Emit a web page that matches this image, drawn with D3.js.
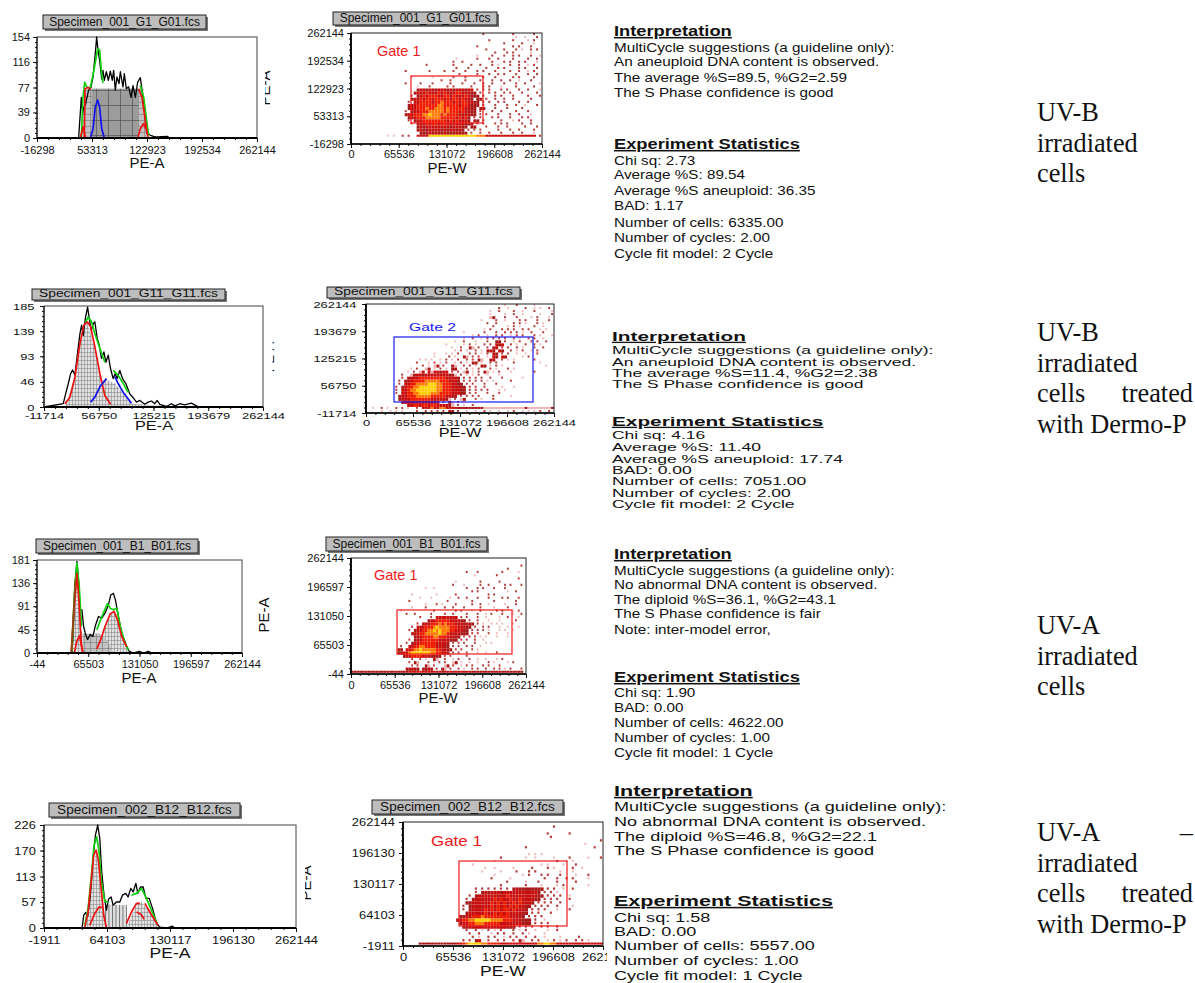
<!DOCTYPE html>
<html>
<head>
<meta charset="utf-8">
<script src="https://cdn.jsdelivr.net/npm/d3@7"></script>
<style>
  body { margin: 0; background: #fff; }
  text { font-family: "Liberation Sans", Arial, sans-serif; fill: #111; }
  .serif { font-family: "Liberation Serif", "Times New Roman", serif; }
  .axis path { display: none; }
  .axis line { stroke: #111; }
</style>
</head>
<body>
<div id="chart"></div>
<script>
// file names above each plot
const FILES = ["Specimen_001_G1_G01.fcs", "Specimen_001_G11_G11.fcs", "Specimen_001_B1_B01.fcs", "Specimen_002_B12_B12.fcs"]

// tick labels
const HIST_X_TICKS = [
  [-16298, 53313, 122923, 192534, 262144],
  [-11714, 56750, 125215, 193679, 262144],
  [-44, 65503, 131050, 196597, 262144],
  [-1911, 64103, 130117, 196130, 262144]
]
const HIST_Y_TICKS = [[0, 39, 77, 116, 154], [0, 46, 93, 139, 185], [0, 45, 91, 136, 181], [0, 57, 113, 170, 226]]
const SCATTER_X_TICKS = [0, 65536, 131072, 196608, 262144]

// histogram traces, [PE-A in thousands, count]
const black1 = [[-16.3,0],[36.4,0],[39.8,62],[41.5,37],[42.8,47],[44.9,50],[47,62],[49.1,73],[52,77],[54.6,93],[57.5,129],[59.2,154],[60.9,134],[63,118],[65.6,90],[67.2,103],[68.9,88],[71.5,101],[74,88],[76.5,102],[79,88],[80.7,103],[82.8,73],[84.9,93],[87.5,83],[89.2,101],[92.5,78],[94.2,98],[96.8,75],[99.7,78],[102.7,62],[105.2,80],[108.2,62],[111.1,85],[114.5,92],[116.6,73],[119.6,42],[123,9],[127.2,4],[131.4,2.5],[135.6,1.5],[148.2,2.5],[152.5,0],[262.1,0]]
const green1a = [[39.8,1.5],[41.9,62],[44,85],[47,77],[51.2,77],[55.4,101],[60.5,136],[63,134],[65.1,103],[67.2,84]]
const green1b = [[114.5,80],[118.7,62],[123,22],[125,4]]
const red1a = [[38.5,0],[41.9,17],[45.3,0]]
const red1b = [[43.6,1.5],[44.5,75],[47.8,77],[52,75]]
const red1c = [[112.4,75],[116.6,62],[119.6,37],[123,7]]
const red1d = [[111.5,1.5],[114.5,14],[118.7,22],[121.7,14],[124.2,1.5]]
const blue1 = [[51.2,0],[54.6,14],[57.5,47],[60.5,58],[63,47],[65.6,14],[68.9,0]]
const lightFill1 = [[39.8,0],[44,75],[118,75],[125,0]]
const darkFill1 = [[53,0],[53,75],[112.4,75],[112.4,0]]

const black2 = [[-11.7,0],[12.4,6],[15.3,24],[18.7,43],[21.6,61],[24.1,68],[27,58],[29.9,95],[33.2,134],[35.3,150],[37.4,131],[40.3,165],[42.8,183],[44.9,162],[47.4,140],[49.9,153],[51.9,156],[54.9,125],[57.4,113],[60.2,89],[63.2,101],[65.7,82],[68.6,95],[71.5,70],[74.8,52],[77.3,61],[79.8,52],[83.1,67],[86.5,52],[90.6,43],[95.6,24],[99.8,17],[103.9,9],[108.1,12],[114.3,5],[118.5,9],[122.7,11],[126.8,6],[129.8,12],[133.1,5],[141.4,1],[147.7,6],[151.8,2],[158.1,6],[164.3,4],[172.6,7],[178.9,2],[183,0],[262.1,0]]
const green2a = [[40.3,156],[43.6,165],[47.8,156],[51.9,134],[58.2,107],[64.4,82]]
const green2b = [[74.8,67],[81,58],[87.3,43],[93.5,27]]
const red2 = [[14.5,6],[20.7,18],[27,55],[33.2,116],[38.2,150],[42.4,156],[46.6,147],[51.9,110],[58.2,61],[64.4,21],[71.5,5]]
const blue2a = [[46.6,9],[51.9,18],[58.2,37],[66.5,52]]
const blue2b = [[77,55],[81,43],[87.3,27],[97.7,7]]
const lightFill2 = [[14.5,0],[27,55],[33.2,116],[42.4,156],[51.9,110],[60,48],[70,48],[77,43],[97.7,6],[125,3],[183,1],[183,0]]

const black3 = [[-0.04,0],[43.8,0],[45.9,26],[48.9,142],[51,178],[53.1,142],[55.2,84],[57.4,84],[59.5,52],[61.6,39],[64.6,26],[68,36],[71.4,32],[74.4,52],[78.6,71],[82.9,68],[87.1,78],[91.4,94],[94.3,113],[97.7,116],[100.3,103],[104.1,71],[108.3,39],[113.9,16],[118.1,3],[123.2,0],[130.9,3],[136,0],[142.3,3],[146.6,0],[262.1,0]]
const green3a = [[44.6,0],[47.6,110],[51,175],[54,129],[56.9,52]]
const green3b = [[76.5,45],[82.9,71],[90,96],[93.5,87],[97.7,84],[102,87],[107,48],[112.6,19],[116.8,6]]
const red3a = [[43.8,0],[46.7,71],[51,155],[53.5,103],[56.5,19],[58.6,0]]
const red3b = [[47.6,0],[51,23],[54.4,34],[56.5,16],[58.6,0]]
const red3c = [[76.5,8],[80.7,23],[87.1,52],[93.5,76],[98.6,81],[102.8,65],[108.3,32],[114.7,12]]
const brown3 = [[43.8,0],[48.9,140]]
const lightFill3 = [[43.8,0],[46.7,71],[51,155],[53.5,103],[56.5,45],[58,39],[58,0]]
const lightFill3b = [[76.5,0],[87.1,52],[93.5,76],[98.6,81],[102.8,65],[108.3,32],[116.8,6],[116.8,0]]
const darkFill3 = [[58,0],[58,38],[80,38],[90,23],[98,0]]

const black4 = [[-1.9,0],[38,0],[39.7,28],[41.8,34],[43.9,26],[46.7,72],[49.5,153],[52,204],[54.4,226],[56.5,197],[58.6,123],[61,72],[63.5,39],[65.6,63],[68.4,68],[70.5,50],[74,57],[77.5,57],[80.3,72],[83.8,76],[86.2,68],[89,87],[91.5,79],[94.3,98],[96.4,76],[99.2,90],[102,90],[104.8,65],[108.3,65],[111.8,43],[116,10],[119.4,2],[126.4,0],[132.7,4],[135.2,0],[262.1,0]]
const green4a = [[40.8,6],[44.3,43],[47.8,116],[50.6,182],[53.4,200],[55.8,167],[58.3,101],[61.7,59],[65.2,56]]
const green4b = [[89.7,72],[95,76],[100.2,87],[105.5,65],[110.7,39],[116.6,10]]
const red4a = [[40.8,2],[44.3,35],[47.8,109],[50.2,160],[52.7,171],[55.1,149],[58.3,79],[60.7,28],[63.5,0]]
const red4b = [[46,6],[51.3,32],[55.8,46],[58.6,46]]
const red4c = [[84.5,10],[89.7,35],[95,54],[98.5,54]]
const red4d = [[103.7,54],[109,35],[114.2,17],[117.7,6]]
const red4e = [[95,35],[100.2,29],[103,19]]
const lightFill4 = [[40.8,0],[47.8,109],[52.7,171],[55.1,149],[58.3,79],[60.7,50],[63.5,0]]
const lightFill4b = [[84.5,0],[95,54],[100,58],[109,35],[117.7,6],[117.7,0]]
const stripeFill4 = [[62,0],[62,52],[85,50],[85,0]]

// event density read cell by cell, blank = no events, 1 pale ... 6 yellow
const density1 = [
"............................................2.........2......2",
".......................................................1..1...2.1",
"..............................................2.......2....1.2...1",
"...................................................2.....2...1..2",
"..........................................2...........2.2...2...1",
".............................................2.....2...2.1..2.2",
"................................................2...2.2.....1...2",
"..........................................1....2...2..2.2...2..1",
"...................................1......2...2..2....2....2..2",
"..................................2..2.........2...2.2..2.2...1.2",
".........................2........2.....2..2...2.1...2..2..1.2",
"...................................2...2.....2...2.2....2.2...2",
"..................2.......2....2..2...2...2.2...2....2..2..1.2",
"....................................2.....2...2..2.2...2...2..2.2",
"....................1......1......2...2.....2...2.....2.2....2",
"..............................2..2....2....2...2..2..2..1...2...2",
"..................2....2...2.....2...2...2..2..2...2...2..2....1",
"......................1...2.....2.2.....2...2.2...1....2.....2..2",
"......................2332332333232333233.2.2.2...2.2...2..2...1",
".....................233343334343334433322.2..2.2..2.2...2....2",
"....................2.234344433443433343222.2...2.2...2....2...2.1",
"....................233434434443434434332.22.2..2..2..2.....2",
"...................2.3344443445444343443322.2.2..2.2....2..2",
"...................233444444455444443443222.2...2...2..2..1...2",
"...................23344454455545444443322.22...2...2....2",
"..................2.2334445555545444343222.2...2..2....2...2",
"..................233444556555454444333322.2.2...2...2..2...1",
"...................233444555554444434342.2.2...2.2...2...2.2",
"...................2.2334444444434343332.22.2.....2...1.2...2",
"....................2.2334344344333333222.2.2...2.2.2....2..2...2",
"......................23233333333233322.22...2...2..2.....2...2.1",
"......................2322333323233232.2.2.2.....2...2..2....2..2",
".......................2223232232223222.2..2..2...2...2..2...1..2",
"............1.1..2.2..3333666666666666666655533333333333333333.3"
]
const density2 = [
"...............................................1...2.....1",
".............................................2..1.....2..1.1..2",
"..........................................1..2....2..1...2.....1",
"..........................................1....1..2..1.....1...2",
"..........................................12...2...2....1.2...1",
".......................................1....2..1....2.2...2...2",
".........................................2..2.....2.2.1...2.1",
"...........................................2....1.2.1....2..1...2",
"........................................1.2...2.2.2..2.2...1.1",
".................................1......2...2..2.2.2.1..2...2",
"....................................1.2..1..2.2..1.2.2...2.1...1",
".................................1..2..1.2.2.2.2..2.1..2.2..1",
"..............................1..2...1...2..22.2..1.2...2.2..2",
"...........................1.....1.2.1..2.2.323..2.1..2..2.1",
".............................1..2..21.2..2.23.3.2..2.1...2..2",
"..............................1.2.1..2.1.232.32..2.1.2..1.2",
".......................1...1.1.2...2.2.1.2.32.2.2..1..1...2",
".......................1....2.1..21.2.3..1.32.32.....1.2",
"..................1.1.1..1.2.1.2..2.3.21..23..2.1.1......2",
".................2...1.2.1.2..1.2.1.22.1..2.2.....2........1",
"...................2.1.12.2..21..2.2.1.22.1.2.1..............1",
"...............1.2..12.1.2.1.22.1.2.1.2...2.1...2.1",
"..............1.2.13.3133233.3.2.12.1.2.21.1.2...1.......2",
"............2..1233233333333221.2.1.1.2..1...1",
"............2.233344444444433332.2.2.2.2..2...2......1",
"...........2.2334444555554443332.2.2.2.2.1.1.....2",
"...........2.33445555666554443322.2.2...2...2",
"..........2.2344556666665544433322.2.2..2.....1...1",
"..........2.3345566666665544433322.2.2.2.2...1.1",
"..........2.3344556666555444433322.2.2...2...2",
"...........23344455555444443332.2.2.2.2....2.....1",
"...........233344444443333321.2.12...2.1...2",
"............2333233333323.2.21.2.1",
"..............3344344344333321.2.1..2",
"..1..2.1..2.2.1..2.333533553333222222222111111111111112111111112",
".....1..1.1.1....2..2.2.2.2.22.2..1..1..2.1..1..1.2..1.1.1.2..2"
]
const density3 = [
"",
"",
"..............................................................2",
".........................................................2",
"..........................................2...2........2.....1..2",
".............................................1.......2",
".............................................................2",
"......................................1........2......2",
".....................................2...1.....2..2.....2.2...2",
"...........................1..1...........2...2.2...2...2",
"............................................2.2..........1..2",
"......................1........1......2...........2.2",
".........................1...1......1..2..2...2...2....2.2...2",
".....................2.............2........2.......2.......2",
"...........................1...2.1....2.....2..2..1.....1...2",
"......................1....2......2..2...2.....2....1....2",
"..................1...........2.......2.2...1..2.....2.2...1.2",
"....................2..2.....2....3..2....2...2..1.2...2...1..2",
".........................2...2.33333333.2.2...2..1....1..2...1",
"............................23344444333322.2..2...1...1.....2",
"........................2.3334445454443332322.2.1..1.1.1...1",
"......................2.33344456555544433322.2..2.2...1..1...1",
".....................2.23344556565554433322.2.2.2.1...1.1..1",
"......................233445555565543333222.2.2...2..1...1",
".......................23344445544433322.2.2.2.1.1...1...1",
".....................2.2334444443333222.2.2..2..1",
"....................2.23344444433332.2.2.2...2...1.1",
"..................2..334455444433322.2.2..2.2..1",
".................22.33455655555443322.2.2...2.1",
".................2233566666665544332.2.2..2...1..1...2",
"...................23344443332222.2.2.....2",
"......................2..2.1..21..2..1.2...2..1..1...1.2",
".....................2.21...2.1.2.2..12.1..1..1...2.1....1.2",
"......................2.2..21.2...12.2..1.2.2...2.2...2",
"....................22322.2232.2.21.2..2.1..2.2..2..2.2.1.2...2",
"222222222222222222222333343333323232323232322222222222222222222"
]
const density4 = [
"",
"................................................2",
"",
"..............................................2......2",
"...............................................2",
"...............................................................2",
"..........................................................1",
".......................................2.....................2",
"",
"........................................1.1.1",
"...............................2.......1..1.....1....2.....1...2",
".............................1...................2..1.1",
"......................1.....................1.1....1...2",
"..........................1..1.....1.....2....2.1.....2..1",
".........................1.....1....2...2.2.......1...1",
".............................1........1.2...2.2...2....1...2",
"............................2.....1..........2...2..2.2....1",
".................................2.....1...2.....2.....2",
"...............................2.......2....1....1.2.......1",
".......................2.2.2.2.2.2.2322222222.2.2..1..2",
".......................2.2323332333333333332.2.2.1",
".....................2.2333333333433333333322.2.2.2..1",
"....................2.2333333434334334333322.2.2.2...2",
"....................2233333343434334343332.2.2.2..2",
"...................2.23333334343434343322.2.2.2..2....1",
"...................2.2333343434344343332.2.2.2...1...2",
"....................23333343343434333322.2.2...2",
"..................223344454444444433322.2.2.2",
".................234455666665555444333222.2..1",
"..................23344555444443333333222.2.2.2",
"...................22333333333333222.2.2.2..2.2..2",
"....................2..2.1.2.1.2...2.1.2..1...1..2",
".....................2..2...1.2.2..2..2.1....1",
"......................2.1..2.2..1.2.2..2..2..1....1.....2",
"...................2.2.23..2..3.2..3.21..2.2..1.2.1.2..2.2.1",
".....22222222222233456666554444333333333333556655333333333333333"
]
// gate corners, [PE-W, PE-A]
const gates = [[[82350, 36400], [181170, 154300]], [[39040, 15960], [232860, 179240]], [[68900, 45180], [241170, 144620]], [[73400, 40700], [214960, 179100]]]
const gateNames = ["Gate 1", "Gate 2", "Gate 1", "Gate 1"]

// report text
const interp1 = ["MultiCycle suggestions (a guideline only):", "An aneuploid DNA content is observed.", "The average %S=89.5, %G2=2.59", "The S Phase confidence is good"]
const stats1 = ["Chi sq: 2.73", "Average %S: 89.54", "Average %S aneuploid: 36.35", "BAD: 1.17", "Number of cells: 6335.00", "Number of cycles: 2.00", "Cycle fit model: 2 Cycle"]
const interp2 = ["MultiCycle suggestions (a guideline only):", "An aneuploid DNA content is observed.", "The average %S=11.4, %G2=2.38", "The S Phase confidence is good"]
const stats2 = ["Chi sq: 4.16", "Average %S: 11.40", "Average %S aneuploid: 17.74", "BAD: 0.00", "Number of cells: 7051.00", "Number of cycles: 2.00", "Cycle fit model: 2 Cycle"]
const interp3 = ["MultiCycle suggestions (a guideline only):", "No abnormal DNA content is observed.", "The diploid %S=36.1, %G2=43.1", "The S Phase confidence is fair", "Note: inter-model error,"]
const stats3 = ["Chi sq: 1.90", "BAD: 0.00", "Number of cells: 4622.00", "Number of cycles: 1.00", "Cycle fit model: 1 Cycle"]
const interp4 = ["MultiCycle suggestions (a guideline only):", "No abnormal DNA content is observed.", "The diploid %S=46.8, %G2=22.1", "The S Phase confidence is good"]
const stats4 = ["Chi sq: 1.58", "BAD: 0.00", "Number of cells: 5557.00", "Number of cycles: 1.00", "Cycle fit model: 1 Cycle"]

const GREEN = "#10d010", RED = "#ee1111", BLUE = "#1111ee", BLACK = "#000"
const HIST_LAYOUT = [
  {x0: 37, x1: 257, y0: 138, y1: 37, box: [43, 15, 163, 14], boxFont: 12, boxSx: 1, sx: 1, font: 11, pad: 4, label: [147, 168], side: {x: 270, y: 88, clip: 265, size: 15}, labelSize: 15},
  {x0: 44, x1: 263, y0: 407, y1: 306, box: [32, 289, 193, 11], boxFont: 10, boxSx: 1.38, sx: 1.36, font: 9.5, pad: 1.2, label: [154, 430], side: {x: 273.5, y: 357, clip: 272.5, size: 13}, labelSize: 12},
  {x0: 37, x1: 242, y0: 653, y1: 560, box: [36, 539, 162, 14], boxFont: 12, boxSx: 1, sx: 1, font: 11, pad: 3, label: [139, 683], side: {x: 269, y: 615, clip: 0, size: 15}, labelSize: 15},
  {x0: 44, x1: 296, y0: 928, y1: 825, box: [49, 803, 191, 14], boxFont: 12, boxSx: 1.13, sx: 1.17, font: 11, pad: 4, label: [170, 958], side: {x: 311, y: 883, clip: 305, size: 15}, labelSize: 15}
]
const SCATTER_LAYOUT = [
  {x0: 351, x1: 542, y0: 144, y1: 33, box: [333, 12, 164, 13], boxFont: 12, boxSx: 1, sx: 1, font: 11, pad: 2, label: [447, 173], gateText: [377, 56], gateFont: 14.5, labelSize: 15, thinRow: 33},
  {x0: 366, x1: 554, y0: 413, y1: 304, box: [327, 287, 193, 11], boxFont: 10, boxSx: 1.38, sx: 1.36, font: 9.5, pad: 2, label: [460, 437], gateText: [409, 331], gateFont: 11.5, labelSize: 12, thinRow: 34},
  {x0: 351, x1: 526, y0: 674, y1: 558, box: [326, 537, 161, 14], boxFont: 12, boxSx: 1, sx: 1, font: 11, pad: 3, label: [438, 703], gateText: [374, 580], gateFont: 14.5, labelSize: 15, thinRow: 35},
  {x0: 403, x1: 603, y0: 946, y1: 822, box: [372, 800, 191, 14], boxFont: 12, boxSx: 1.13, sx: 1.17, font: 11, pad: 3.5, label: [503, 976], gateText: [431, 846], gateFont: 14.5, labelSize: 15, clipRight: 607, thinRow: 35}
]
const TEXT_LAYOUT = [
  {x: 614, size: 13.5, sx: 1.13, headSize: 15.5, headSx: 1.18, interpHead: 36, interpY: [52, 66, 82, 97], statsHead: 149, statsY: [164.5, 179, 195, 210, 227, 242, 258]},
  {x: 612, size: 11, sx: 1.59, headSize: 13, headSx: 1.6, interpHead: 341, interpY: [354, 366, 377, 388], statsHead: 426, statsY: [439, 451, 463, 474, 485, 497, 508]},
  {x: 614, size: 13.5, sx: 1.13, headSize: 15.5, headSx: 1.18, interpHead: 559, interpY: [575, 589, 604, 618, 634], statsHead: 682, statsY: [697, 712, 727, 742, 757]},
  {x: 614, size: 13.5, sx: 1.338, headSize: 15.5, headSx: 1.39, interpHead: 796, interpY: [811, 826, 841, 855], statsHead: 906, statsY: [922, 936, 950, 965, 980]}
]

const svg = d3.select("#chart").append("svg")
  .attr("width", 1195)
  .attr("height", 983)
  .style("display", "block")

const defs = svg.append("defs")
defs.append("filter").attr("id", "soft")
  .append("feGaussianBlur").attr("stdDeviation", 0.35)

// hatch fills used under the fitted peaks
function hatch(id, bg, line, w, h, both) {
  const p = defs.append("pattern").attr("id", id).attr("patternUnits", "userSpaceOnUse").attr("width", w).attr("height", h)
  p.append("rect").attr("width", w).attr("height", h).attr("fill", bg)
  p.append("line").attr("x1", 0.5).attr("x2", 0.5).attr("y1", 0).attr("y2", h).attr("stroke", line).attr("stroke-width", 0.6)
  if (both) p.append("line").attr("x1", 0).attr("x2", w).attr("y1", 0.5).attr("y2", 0.5).attr("stroke", line).attr("stroke-width", 0.6)
}
hatch("lightHatch", "#e2e2e2", "#8a8a8a", 3, 4, true)
hatch("darkHatch", "#9c9c9c", "#444", 12, 15, true)
hatch("midHatch", "#c2c2c2", "#777", 6, 6, true)
hatch("stripes", "#e0e0e0", "#222", 3.5, 40, false)

function fileBox(g, name, L) {
  const b = L.box
  g.append("rect").attr("x", b[0] + 2).attr("y", b[1] + 2).attr("width", b[2]).attr("height", b[3]).attr("fill", "#777")
  g.append("rect").attr("x", b[0]).attr("y", b[1]).attr("width", b[2]).attr("height", b[3])
    .attr("fill", "#bdbdbd").attr("stroke", "#222").attr("stroke-width", 1)
  g.append("text")
    .attr("transform", `translate(${b[0] + b[2] / 2}, ${b[1] + b[3] - 3}) scale(${L.boxSx}, 1)`)
    .attr("text-anchor", "middle")
    .attr("font-size", L.boxFont)
    .text(name)
}

function drawAxes(g, x, y, xTicks, yTicks, L) {
  const minorX = d3.range(0, 21).map(i => xTicks[0] + (xTicks[4] - xTicks[0]) * i / 20)
  const minorY = d3.range(0, 21).map(i => yTicks[0] + (yTicks[4] - yTicks[0]) * i / 20)

  g.append("g").attr("class", "axis").attr("transform", `translate(0, ${L.y0})`)
    .call(d3.axisBottom(x).tickValues(minorX).tickSize(2).tickFormat(""))
  g.append("g").attr("class", "axis").attr("transform", `translate(${L.x0}, 0)`)
    .call(d3.axisLeft(y).tickValues(minorY).tickSize(2).tickFormat(""))

  const xAxis = g.append("g").attr("class", "axis").attr("transform", `translate(0, ${L.y0})`)
    .call(d3.axisBottom(x).tickValues(xTicks).tickSize(4).tickPadding(L.pad).tickFormat(d => d))
  xAxis.selectAll("text").attr("font-size", L.font).attr("transform", `scale(${L.sx}, 1)`).attr("fill", "#111")

  const yAxis = g.append("g").attr("class", "axis").attr("transform", `translate(${L.x0}, 0)`)
    .call(d3.axisLeft(y).tickValues(yTicks).tickSize(4).tickPadding(3).tickFormat(d => d))
  yAxis.selectAll("text").attr("font-size", L.font).attr("transform", `scale(${L.sx}, 1)`).attr("fill", "#111")
}

function axisTitle(g, name, L) {
  g.append("text")
    .attr("transform", `translate(${L.label[0]}, ${L.label[1]}) scale(${L.sx}, 1)`)
    .attr("text-anchor", "middle")
    .attr("font-size", L.labelSize)
    .text(name)
}

function drawHist(i, fills, traces) {
  const L = HIST_LAYOUT[i]
  const g = svg.append("g")
  const xTicks = HIST_X_TICKS[i], yTicks = HIST_Y_TICKS[i]
  const x = d3.scaleLinear().domain([xTicks[0], xTicks[4]]).range([L.x0, L.x1])
  const y = d3.scaleLinear().domain([0, yTicks[4]]).range([L.y0, L.y1])

  const area = d3.area().x(d => x(d[0] * 1000)).y0(y(0)).y1(d => y(d[1]))
  const line = d3.line().x(d => x(d[0] * 1000)).y(d => y(d[1]))

  fills.forEach(f => g.append("path").attr("d", area(f.data)).attr("fill", `url(#${f.fill})`))

  g.append("rect").attr("x", L.x0).attr("y", L.y1).attr("width", L.x1 - L.x0).attr("height", L.y0 - L.y1)
    .attr("fill", "none").attr("stroke", "#444").attr("stroke-width", 1)

  traces.forEach(t => g.append("path").attr("d", line(t.data)).attr("fill", "none")
    .attr("stroke", t.color).attr("stroke-width", t.color === BLACK ? 1.3 : 1.7).attr("stroke-linejoin", "round"))

  drawAxes(g, x, y, xTicks, yTicks, L)
  g.append("line").attr("x1", L.x0).attr("x2", L.x1).attr("y1", L.y0).attr("y2", L.y0).attr("stroke", "#000").attr("stroke-width", 1.8)
  g.append("line").attr("x1", L.x0).attr("x2", L.x0).attr("y1", L.y0).attr("y2", L.y1).attr("stroke", "#000").attr("stroke-width", 1)

  fileBox(g, FILES[i], L)
  axisTitle(g, "PE-A", L)

  // the y label is cut off by the page in most of the panels
  const s = L.side
  const sideG = g.append("g")
  if (s.clip) {
    sideG.append("clipPath").attr("id", "side" + i).append("rect")
      .attr("x", s.clip).attr("y", s.y - 30).attr("width", 20).attr("height", 60)
    sideG.attr("clip-path", `url(#side${i})`)
  }
  sideG.append("text")
    .attr("transform", `translate(${s.x}, ${s.y}) rotate(-90)`)
    .attr("text-anchor", "middle")
    .attr("font-size", s.size)
    .text("PE-A")
}

const densityColor = d3.scaleOrdinal()
  .domain(["1", "2", "3", "4", "5", "6"])
  .range(["#efb0b0", "#a81818", "#c80c0c", "#ee1a00", "#ff7a00", "#ffd000"])

function drawScatter(i, grid) {
  const L = SCATTER_LAYOUT[i]
  const g = svg.append("g")
  const yTicks = HIST_X_TICKS[i]
  const x = d3.scaleLinear().domain([0, 262144]).range([L.x0, L.x1])
  const y = d3.scaleLinear().domain([yTicks[0], yTicks[4]]).range([L.y0, L.y1])
  const col = d3.scaleBand().domain(d3.range(64)).range([L.x0, L.x1])
  const row = d3.scaleBand().domain(d3.range(36)).range([L.y1, L.y0])

  // single events are drawn smaller than the filled parts of the cloud
  const cells = []
  grid.forEach((s, r) => s.split("").forEach((c, k) => {
    if (c === "." || k >= 64) return
    const alone = (s[k - 1] === undefined || s[k - 1] === ".") && (s[k + 1] === undefined || s[k + 1] === ".")
    cells.push({r, k, c, alone})
  }))
  const w = d => (d.alone ? 0.66 : 1) * col.bandwidth()
  const h = d => d.r === L.thinRow ? 2 : (d.alone ? 0.66 : 1) * row.bandwidth()

  g.append("g").attr("filter", "url(#soft)").selectAll("rect").data(cells).enter().append("rect")
    .attr("x", d => col(d.k))
    .attr("y", d => row(d.r))
    .attr("width", w)
    .attr("height", h)
    .attr("fill", d => densityColor(d.c))
    .attr("opacity", d => d.alone ? 0.85 : 1)

  const gate = gates[i]
  const gateColor = gateNames[i] === "Gate 2" ? "#1a1aee" : "#ee1a1a"
  g.append("rect")
    .attr("x", x(gate[0][0])).attr("y", y(gate[1][1]))
    .attr("width", x(gate[1][0]) - x(gate[0][0]))
    .attr("height", y(gate[0][1]) - y(gate[1][1]))
    .attr("fill", "none").attr("stroke", gateColor).attr("stroke-width", 1.2)
  g.append("text")
    .attr("transform", `translate(${L.gateText[0]}, ${L.gateText[1]}) scale(${L.sx}, 1)`)
    .attr("font-size", L.gateFont)
    .style("fill", gateColor)
    .text(gateNames[i])

  g.append("rect").attr("x", L.x0).attr("y", L.y1).attr("width", L.x1 - L.x0).attr("height", L.y0 - L.y1)
    .attr("fill", "none").attr("stroke", "#222").attr("stroke-width", 1)

  const axisG = g.append("g")
  if (L.clipRight) {
    axisG.append("clipPath").attr("id", "scatterClip" + i).append("rect")
      .attr("x", 0).attr("y", L.y1 - 20).attr("width", L.clipRight).attr("height", 200)
    axisG.attr("clip-path", `url(#scatterClip${i})`)
  }
  drawAxes(axisG, x, y, SCATTER_X_TICKS, yTicks, L)
  g.append("line").attr("x1", L.x0).attr("x2", L.x1).attr("y1", L.y0).attr("y2", L.y0).attr("stroke", "#000").attr("stroke-width", 1.6)
  g.append("line").attr("x1", L.x0).attr("x2", L.x0).attr("y1", L.y0).attr("y2", L.y1).attr("stroke", "#000").attr("stroke-width", 1.8)

  fileBox(g, FILES[i], L)
  axisTitle(g, "PE-W", L)
}

function drawReport(T, interp, stats) {
  const g = svg.append("g")
  const head = (name, yy) => g.append("text")
    .attr("transform", `translate(${T.x}, ${yy}) scale(${T.headSx}, 1)`)
    .attr("font-size", T.headSize)
    .attr("font-weight", "bold")
    .attr("text-decoration", "underline")
    .text(name)
  const body = (lines, ys) => lines.forEach((s, i) => g.append("text")
    .attr("transform", `translate(${T.x}, ${ys[i]}) scale(${T.sx}, 1)`)
    .attr("font-size", T.size)
    .text(s))
  head("Interpretation", T.interpHead)
  body(interp, T.interpY)
  head("Experiment Statistics", T.statsHead)
  body(stats, T.statsY)
}

drawHist(0,
  [{data: lightFill1, fill: "midHatch"}, {data: darkFill1, fill: "darkHatch"}],
  [{data: black1, color: BLACK}, {data: green1a, color: GREEN}, {data: green1b, color: GREEN}, {data: red1a, color: RED},
   {data: red1b, color: RED}, {data: red1c, color: RED}, {data: red1d, color: RED}, {data: blue1, color: BLUE}])
drawHist(1,
  [{data: lightFill2, fill: "lightHatch"}],
  [{data: black2, color: BLACK}, {data: green2a, color: GREEN}, {data: green2b, color: GREEN}, {data: red2, color: RED}, {data: blue2a, color: BLUE}, {data: blue2b, color: BLUE}])
drawHist(2,
  [{data: lightFill3, fill: "lightHatch"}, {data: lightFill3b, fill: "lightHatch"}, {data: darkFill3, fill: "midHatch"}],
  [{data: black3, color: BLACK}, {data: green3a, color: GREEN}, {data: green3b, color: GREEN}, {data: red3a, color: RED},
   {data: red3b, color: RED}, {data: red3c, color: RED}, {data: brown3, color: "#8a4a10"}])
drawHist(3,
  [{data: lightFill4, fill: "lightHatch"}, {data: lightFill4b, fill: "lightHatch"}, {data: stripeFill4, fill: "stripes"}],
  [{data: black4, color: BLACK}, {data: green4a, color: GREEN}, {data: green4b, color: GREEN}, {data: red4a, color: RED},
   {data: red4b, color: RED}, {data: red4c, color: RED}, {data: red4d, color: RED}, {data: red4e, color: RED}])

drawScatter(0, density1)
drawScatter(1, density2)
drawScatter(2, density3)
drawScatter(3, density4)

drawReport(TEXT_LAYOUT[0], interp1, stats1)
drawReport(TEXT_LAYOUT[1], interp2, stats2)
drawReport(TEXT_LAYOUT[2], interp3, stats3)
drawReport(TEXT_LAYOUT[3], interp4, stats4)

// condition notes on the far right, justified in the source document
const noteRows = [
  {ys: [121, 152, 182], lines: [["UV-B"], ["irradiated"], ["cells"]]},
  {ys: [341, 372, 402, 433], lines: [["UV-B"], ["irradiated"], ["cells", "treated"], ["with Dermo-P"]]},
  {ys: [634, 665, 695], lines: [["UV-A"], ["irradiated"], ["cells"]]},
  {ys: [841, 872, 902, 933], lines: [["UV-A", "–"], ["irradiated"], ["cells", "treated"], ["with Dermo-P"]]}
]
noteRows.forEach(n => n.lines.forEach((parts, i) => {
  svg.append("text").attr("class", "serif").attr("x", 1037).attr("y", n.ys[i]).attr("font-size", 26.3).text(parts[0])
  if (parts[1]) {
    svg.append("text").attr("class", "serif").attr("x", 1193).attr("y", n.ys[i]).attr("text-anchor", "end").attr("font-size", 26.3).text(parts[1])
  }
}))
</script>
</body>
</html>
